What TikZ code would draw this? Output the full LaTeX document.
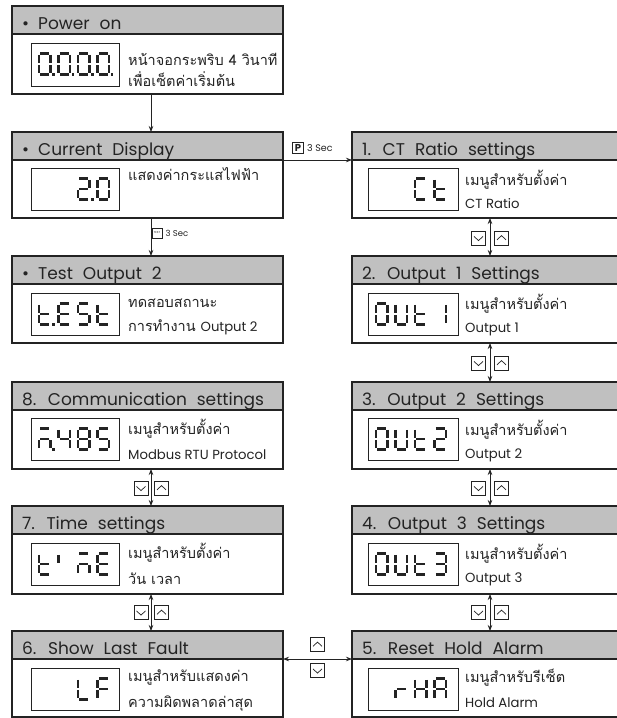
\documentclass[tikz,border=0pt]{standalone}
\usepackage{fontspec}
\setmainfont{Poppins}
\newfontfamily\hfont[WordSpace=2.2]{Poppins}
\newfontfamily\thai[Script=Thai]{Loma}
\usetikzlibrary{arrows.meta}

\definecolor{ink}{RGB}{35,35,35}
\definecolor{hdrgray}{RGB}{192,192,192}

% seven-segment pieces, local frame: origin top-left, y downward
\newcommand\segdrawa{\draw[seg] (1.4,0)--(10.1,0);}
\newcommand\segdrawb{\draw[seg] (11.5,1.4)--(11.5,9.1);}
\newcommand\segdrawc{\draw[seg] (11.5,11.9)--(11.5,19.6);}
\newcommand\segdrawd{\draw[seg] (1.4,21)--(10.1,21);}
\newcommand\segdrawe{\draw[seg] (0,11.9)--(0,19.6);}
\newcommand\segdrawf{\draw[seg] (0,1.4)--(0,9.1);}
\newcommand\segdrawg{\draw[seg] (1.4,10.5)--(10.1,10.5);}
\newcommand\segdrawp{\fill[ink] (13.3,19.7) rectangle (15.9,22.3);}

% one character of a four-digit display: #1 display node, #2 slot, #3 segments
\newcommand\segglyph[3]{%
  \begin{scope}[shift={(#1.north west)},shift={(8+19.5*#2,10.5)}]
    \foreach \s in {#3}{\csname segdraw\s\endcsname}
  \end{scope}}

% menu box: #1 name, #2 x, #3 top, #4 width, #5 body height, #6 title
\newcommand\menubox[6]{%
  \node[hdr, minimum width=#4pt] (#1H) at (#2,#3) {};
  \node[bdy, minimum width=#4pt, minimum height=#5pt] (#1B) at (#1H.south west) {};
  \node[htext] (#1T) at ([shift={(10,-5)}]#1H.south west) {#6};}

% key symbols
\newcommand\keydn[2]{%
  \node[keybox] (#1) at (#2) {};
  \draw[chev] ([shift={(-4.5,-1.6)}]#1.center) -- ([shift={(0,2.6)}]#1.center) -- ([shift={(4.5,-1.6)}]#1.center);}
\newcommand\keyup[2]{%
  \node[keybox] (#1) at (#2) {};
  \draw[chev] ([shift={(-4.5,1.8)}]#1.center) -- ([shift={(0,-2.4)}]#1.center) -- ([shift={(4.5,1.8)}]#1.center);}

\begin{document}
\begin{tikzpicture}[x=1pt,y=-1pt,
  hdr/.style={draw=ink, fill=hdrgray, line width=1.1pt, anchor=north west,
    minimum height=28pt, inner sep=0, outer sep=0},
  bdy/.style={draw=ink, fill=white, line width=1.1pt, anchor=north west,
    inner sep=0, outer sep=0},
  htext/.style={anchor=base west, inner sep=0, font=\hfont\fontsize{17}{20}\selectfont, text=ink},
  thtext/.style={anchor=base west, inner sep=0, font=\thai\fontsize{14.5}{17}\selectfont, text=ink},
  latext/.style={anchor=base west, inner sep=0, font=\fontsize{13.2}{15}\selectfont, text=ink},
  lcdbox/.style={draw=ink, line width=0.9pt, anchor=north west, minimum height=42pt,
    inner sep=0, outer sep=0},
  seg/.style={draw=ink, line width=2.6pt, line cap=butt},
  keybox/.style={draw=ink, line width=0.7pt, minimum size=14pt, inner sep=0, fill=white},
  chev/.style={draw=ink, line width=0.7pt},
  arr/.style={draw=ink, line width=0.8pt, -{Stealth[length=6pt,width=4.5pt]}},
  darr/.style={draw=ink, line width=0.8pt, {Stealth[length=6pt,width=4.5pt]}-{Stealth[length=6pt,width=4.5pt]}},
  small/.style={inner sep=0, font=\fontsize{7.5}{9}\selectfont, text=ink}]

\useasboundingbox (0,0) rectangle (617,718);
\fill[white] (0,0) rectangle (617,718);

% ---- left column
\menubox{pwr}{12}{6}{271}{60}{\textbullet\hspace{9pt}Power on}
\menubox{cur}{12}{132}{271}{58}{\textbullet\hspace{9pt}Current Display}
\menubox{tst}{12}{256}{271}{59}{\textbullet\hspace{9pt}Test Output 2}
\menubox{com}{12}{382}{271}{59}{8. Communication settings}
\menubox{tim}{12}{506}{271}{60}{7. Time settings}
\menubox{flt}{12}{631}{271}{58}{6. Show Last Fault}
% ---- right column
\menubox{ct}{352}{132}{290}{58}{1. CT Ratio settings}
\menubox{oa}{352}{256}{290}{59}{2. Output 1 Settings}
\menubox{ob}{352}{382}{290}{59}{3. Output 2 Settings}
\menubox{oc}{352}{506}{290}{60}{4. Output 3 Settings}
\menubox{rst}{352}{631}{290}{58}{5. Reset Hold Alarm}

% ---- displays
\node[lcdbox, minimum width=88pt, minimum height=43pt] (pwrD) at ([shift={(19,9)}]pwrH.south west) {};
\node[lcdbox, minimum width=88pt] (curD) at ([shift={(19,8)}]curH.south west) {};
\node[lcdbox, minimum width=88pt] (tstD) at ([shift={(19,9)}]tstH.south west) {};
\node[lcdbox, minimum width=88pt] (comD) at ([shift={(19,8)}]comH.south west) {};
\node[lcdbox, minimum width=88pt] (timD) at ([shift={(19,9)}]timH.south west) {};
\node[lcdbox, minimum width=88pt] (fltD) at ([shift={(19,9)}]fltH.south west) {};
\node[lcdbox, minimum width=90pt] (ctD) at ([shift={(16,8)}]ctH.south west) {};
\node[lcdbox, minimum width=90pt] (oaD) at ([shift={(16,9)}]oaH.south west) {};
\node[lcdbox, minimum width=90pt] (obD) at ([shift={(16,8)}]obH.south west) {};
\node[lcdbox, minimum width=90pt] (ocD) at ([shift={(16,9)}]ocH.south west) {};
\node[lcdbox, minimum width=90pt] (rstD) at ([shift={(16,9)}]rstH.south west) {};

% 0.0.0.0.
\segglyph{pwrD}{0}{a,b,c,d,e,f,p}
\segglyph{pwrD}{1}{a,b,c,d,e,f,p}
\segglyph{pwrD}{2}{a,b,c,d,e,f,p}
\segglyph{pwrD}{3}{a,b,c,d,e,f,p}
% 2.0
\segglyph{curD}{2}{a,b,g,e,d,p}
\segglyph{curD}{3}{a,b,c,d,e,f}
% t.ESt
\segglyph{tstD}{0}{f,e,d,g,p}
\segglyph{tstD}{1}{a,f,g,e,d}
\segglyph{tstD}{2}{a,f,g,c,d}
\segglyph{tstD}{3}{f,e,d,g}
% m.485
\segglyph{comD}{0}{a,g,e,c,p}
\segglyph{comD}{1}{f,g,b,c}
\segglyph{comD}{2}{a,b,c,d,e,f,g}
\segglyph{comD}{3}{a,f,g,c,d}
% tImE
\segglyph{timD}{0}{f,e,d,g}
\segglyph{timD}{1}{f}
\segglyph{timD}{2}{a,g,e,c}
\segglyph{timD}{3}{a,f,g,e,d}
% LF
\segglyph{fltD}{2}{f,e,d}
\segglyph{fltD}{3}{a,f,g,e}
% Ct
\segglyph{ctD}{2}{a,f,e,d}
\segglyph{ctD}{3}{f,e,d,g}
% OUt1 / OUt2 / OUt3
\segglyph{oaD}{0}{a,b,c,d,e,f}
\segglyph{oaD}{1}{b,c,d,e,f}
\segglyph{oaD}{2}{f,e,d,g}
\segglyph{oaD}{3}{b,c}
\segglyph{obD}{0}{a,b,c,d,e,f}
\segglyph{obD}{1}{b,c,d,e,f}
\segglyph{obD}{2}{f,e,d,g}
\segglyph{obD}{3}{a,b,g,e,d}
\segglyph{ocD}{0}{a,b,c,d,e,f}
\segglyph{ocD}{1}{b,c,d,e,f}
\segglyph{ocD}{2}{f,e,d,g}
\segglyph{ocD}{3}{a,b,g,c,d}
% rHA
\segglyph{rstD}{1}{e,g}
\segglyph{rstD}{2}{b,c,e,f,g}
\segglyph{rstD}{3}{a,b,c,e,f,g}

% ---- descriptions
\node[thtext] (pwr1) at ([shift={(116,31)}]pwrH.south west) {หน้าจอกระพริบ 4 วินาที};
\node[thtext] (pwr2) at ([shift={(116,52)}]pwrH.south west) {เพื่อเซ็ตค่าเริ่มต้น};
\node[thtext] (cur1) at ([shift={(116,20)}]curH.south west) {แสดงค่ากระแสไฟฟ้า};
\node[thtext] (tst1) at ([shift={(116,23)}]tstH.south west) {ทดสอบสถานะ};
\node[thtext] (tst2) at ([shift={(116,47)}]tstH.south west) {การทำงาน {\normalfont\fontsize{13.2}{15}\selectfont Output 2}};
\node[thtext] (com1) at ([shift={(116,24)}]comH.south west) {เมนูสำหรับตั้งค่า};
\node[latext] (com2) at ([shift={(116,49)}]comH.south west) {Modbus RTU Protocol};
\node[thtext] (tim1) at ([shift={(116,24)}]timH.south west) {เมนูสำหรับตั้งค่า};
\node[thtext] (tim2) at ([shift={(116,50)}]timH.south west) {วัน เวลา};
\node[thtext] (flt1) at ([shift={(116,22)}]fltH.south west) {เมนูสำหรับแสดงค่า};
\node[thtext] (flt2) at ([shift={(116,48)}]fltH.south west) {ความผิดพลาดล่าสุด};
\node[thtext] (ct1) at ([shift={(113,25)}]ctH.south west) {เมนูสำหรับตั้งค่า};
\node[latext] (ct2) at ([shift={(113,48)}]ctH.south west) {CT Ratio};
\node[thtext] (oa1) at ([shift={(113,25)}]oaH.south west) {เมนูสำหรับตั้งค่า};
\node[latext] (oa2) at ([shift={(113,48)}]oaH.south west) {Output 1};
\node[thtext] (ob1) at ([shift={(113,25)}]obH.south west) {เมนูสำหรับตั้งค่า};
\node[latext] (ob2) at ([shift={(113,48)}]obH.south west) {Output 2};
\node[thtext] (oc1) at ([shift={(113,25)}]ocH.south west) {เมนูสำหรับตั้งค่า};
\node[latext] (oc2) at ([shift={(113,48)}]ocH.south west) {Output 3};
\node[thtext] (rst1) at ([shift={(113,23)}]rstH.south west) {เมนูสำหรับรีเซ็ต};
\node[latext] (rst2) at ([shift={(113,48)}]rstH.south west) {Hold Alarm};

% ---- connectors
\coordinate (lx) at (151,0);
\coordinate (rx) at (490,0);
\draw[arr] (pwrB.south -| lx) -- (curH.north -| lx);
\draw[arr] (curB.south -| lx) -- (tstH.north -| lx);
\draw[arr] (curH.south east) -- (ctH.south west);
\draw[darr] (comB.south -| lx) -- (timH.north -| lx);
\draw[darr] (timB.south -| lx) -- (fltH.north -| lx);
\draw[darr] (ctB.south -| rx) -- (oaH.north -| rx);
\draw[darr] (oaB.south -| rx) -- (obH.north -| rx);
\draw[darr] (obB.south -| rx) -- (ocH.north -| rx);
\draw[darr] (ocB.south -| rx) -- (rstH.north -| rx);
\draw[darr] (fltH.south east) -- (rstH.south west);

% ---- key labels on connectors
\node[draw=ink, line width=0.8pt, minimum size=10.5pt, inner sep=0,
  font=\bfseries\fontsize{10}{10}\selectfont, text=ink] (pkey) at (298,148) {P};
\node[small, anchor=west, font=\fontsize{9.5}{11}\selectfont] (psec) at (307,148.5) {3 Sec};
\node[draw=ink, line width=0.6pt, minimum size=10pt, inner sep=0,
  font=\fontsize{2.8}{3}\selectfont, text=ink] (tkey) at (157,233) {TEST};
\node[small, anchor=west, font=\fontsize{8.5}{10}\selectfont] (tsec) at (165.5,233.5) {3 Sec};

\keydn{k1d}{141,488}   \keyup{k1u}{161.5,488}
\keydn{k2d}{141,612.5} \keyup{k2u}{161.5,612.5}
\keydn{k3d}{478.5,238} \keyup{k3u}{501.5,238}
\keydn{k4d}{478.5,363} \keyup{k4u}{501.5,363}
\keydn{k5d}{478.5,488} \keyup{k5u}{501.5,488}
\keydn{k6d}{478.5,612.5} \keyup{k6u}{501.5,612.5}
\keyup{k7u}{317.5,644.5}
\keydn{k7d}{317.5,670.5}
\end{tikzpicture}
\end{document}
